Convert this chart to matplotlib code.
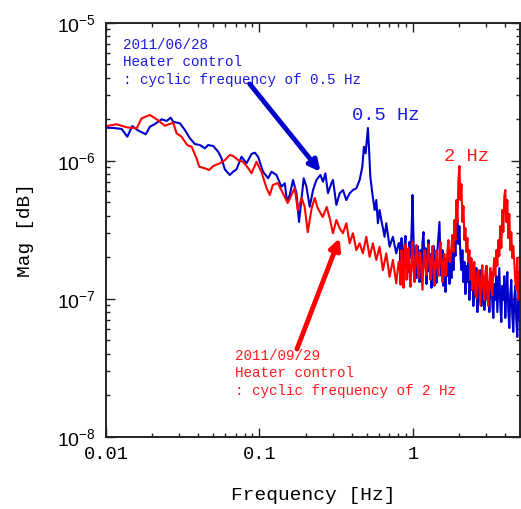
import numpy as np
import matplotlib
matplotlib.use("Agg")
import matplotlib.pyplot as plt
from matplotlib.ticker import FixedLocator, FuncFormatter, LogLocator

# Magnitudes are in units of 1e-7, frequencies in Hz.

# 2011/06/28 spectrum (heater cycling at 0.5 Hz), below 0.82 Hz
blue_freq_low = [
    0.01011, 0.01127, 0.01265, 0.01376, 0.01483, 0.01598, 0.01813, 0.01933, 0.02084, 0.02303,
    0.02483, 0.02636, 0.02741, 0.03030, 0.03266, 0.03520, 0.03794, 0.04089, 0.04407, 0.04631,
    0.04991, 0.05379, 0.05659, 0.05946, 0.06409, 0.06733, 0.07085, 0.07636, 0.08230, 0.08872,
    0.09320, 0.09793, 0.1055, 0.1138, 0.1197, 0.1290, 0.1390, 0.1461, 0.1512, 0.1574,
    0.1654, 0.1741, 0.1810, 0.1884, 0.1942, 0.2022, 0.2125, 0.2233, 0.2349, 0.2494,
    0.2593, 0.2688, 0.2795, 0.2941, 0.3012, 0.3170, 0.3331, 0.3499, 0.3681, 0.3868,
    0.4064, 0.4276, 0.4494, 0.4679, 0.4792, 0.4915, 0.5088, 0.5165, 0.5275, 0.5435,
    0.5626, 0.5770, 0.5910, 0.6063, 0.6219, 0.6535, 0.6704, 0.7044, 0.7401, 0.7786,
    0.8059,
]
blue_mag_low = [
    17.34, 17.26, 16.97, 14.92, 17.84, 16.69, 15.54, 17.64, 18.45, 19.95,
    19.40, 20.50, 19.17, 18.66, 16.69, 14.53, 13.21, 12.99, 12.30, 12.99,
    12.78, 11.62, 10.41, 8.66, 7.88, 8.32, 8.66, 10.69, 9.58, 11.19,
    11.43, 10.69, 8.32, 7.46, 8.32, 7.88, 6.48, 6.86, 5.05, 5.64,
    7.25, 5.81, 3.60, 5.48, 7.46, 6.48, 4.64, 6.13, 7.25, 7.88,
    7.04, 8.11, 5.81, 6.86, 7.25, 4.78, 5.81, 6.13, 5.19, 5.81,
    6.13, 6.31, 7.25, 9.05, 12.63, 11.31, 17.26, 12.63, 7.66, 5.81,
    4.39, 5.19, 3.52, 4.39, 3.72, 2.81, 3.52, 2.38, 2.81, 2.13,
    2.52,
]

# 2011/09/29 spectrum (heater cycling at 2 Hz), below 0.82 Hz
red_freq_low = [
    0.01011, 0.01174, 0.01364, 0.01584, 0.01707, 0.01933, 0.02138, 0.02420, 0.02741, 0.02884,
    0.03108, 0.03381, 0.03611, 0.03891, 0.04046, 0.04407, 0.04700, 0.04991, 0.05516, 0.05946,
    0.06409, 0.06733, 0.07256, 0.07821, 0.08432, 0.08872, 0.09561, 0.1030, 0.1111, 0.1167,
    0.1221, 0.1316, 0.1418, 0.1528, 0.1615, 0.1697, 0.1775, 0.1884, 0.1971, 0.2062,
    0.2189, 0.2290, 0.2395, 0.2582, 0.2741, 0.2867, 0.3012, 0.3170, 0.3331, 0.3499,
    0.3681, 0.3868, 0.4064, 0.4276, 0.4494, 0.4721, 0.4967, 0.5220, 0.5484, 0.5770,
    0.6063, 0.6373, 0.6704, 0.7044, 0.7401, 0.7786, 0.8059,
]
red_mag_low = [
    17.84, 18.36, 17.46, 17.17, 20.29, 21.44, 19.95, 17.93, 18.86, 15.79,
    14.92, 12.99, 12.63, 10.41, 9.05, 8.81, 8.56, 9.15, 9.58, 10.10,
    11.00, 10.82, 10.10, 9.83, 8.85, 8.11, 9.83, 8.28, 6.34, 5.64,
    6.67, 6.89, 5.83, 4.94, 5.64, 6.34, 4.39, 5.37, 4.62, 3.04,
    4.54, 5.37, 4.54, 3.91, 4.62, 3.84, 2.98, 3.72, 3.24, 2.98,
    3.52, 2.52, 2.98, 2.25, 2.52, 2.13, 2.81, 2.01, 2.52, 1.91,
    2.38, 1.61, 2.13, 1.44, 1.91, 1.29, 1.85,
]

# shared frequency bins above 0.8 Hz
dense_freq = [
    0.8180, 0.8303, 0.8429, 0.8556, 0.8685, 0.8816, 0.8949, 0.9084, 0.9221, 0.9360,
    0.9501, 0.9644, 0.9790, 0.9937, 1.0087, 1.0239, 1.0394, 1.0551, 1.0710, 1.0871,
    1.1035, 1.1202, 1.1371, 1.1542, 1.1716, 1.1893, 1.2072, 1.2254, 1.2439, 1.2627,
    1.2817, 1.3011, 1.3207, 1.3406, 1.3608, 1.3813, 1.4022, 1.4233, 1.4448, 1.4666,
    1.4887, 1.5112, 1.5340, 1.5571, 1.5806, 1.6044, 1.6286, 1.6532, 1.6781, 1.7034,
    1.7291, 1.7552, 1.7817, 1.8085, 1.8358, 1.8635, 1.8916, 1.9201, 1.9491, 1.9785,
    2.0083, 2.0386, 2.0693, 2.1005, 2.1322, 2.1644, 2.1970, 2.2301, 2.2638, 2.2979,
    2.3326, 2.3677, 2.4034, 2.4397, 2.4765, 2.5138, 2.5517, 2.5902, 2.6293, 2.6689,
    2.7092, 2.7500, 2.7915, 2.8336, 2.8763, 2.9197, 2.9637, 3.0084, 3.0538, 3.0998,
    3.1466, 3.1940, 3.2422, 3.2911, 3.3407, 3.3911, 3.4422, 3.4941, 3.5468, 3.6003,
    3.6546, 3.7097, 3.7656, 3.8224, 3.8800, 3.9385, 3.9979, 4.0582, 4.1194, 4.1815,
    4.2446, 4.3086, 4.3735, 4.4395, 4.5064, 4.5744, 4.6434, 4.7134, 4.7845, 4.8566,
    4.9298,
]
blue_mag_dense = [
    2.53, 1.85, 2.75, 2.07, 1.61, 2.49, 2.85, 1.73, 2.25, 1.56,
    2.58, 1.97, 3.04, 5.64, 2.66, 1.67, 2.18, 1.41, 2.41, 1.85,
    1.32, 2.25, 1.61, 2.58, 3.04, 1.73, 2.33, 1.28, 1.97, 2.66,
    1.56, 2.11, 1.20, 1.85, 2.41, 1.46, 1.97, 1.30, 2.25, 2.85,
    3.60, 1.85, 1.46, 2.25, 1.24, 1.85, 1.12, 1.97, 1.46, 2.25,
    1.28, 1.85, 1.41, 2.41, 1.61, 2.66, 2.04, 3.25, 3.72, 2.49,
    3.36, 2.04, 1.61, 2.25, 1.32, 1.85, 1.08, 1.73, 1.32, 1.97,
    0.98, 1.56, 1.16, 1.78, 0.885, 1.37, 1.05, 1.67, 0.80, 1.28,
    0.98, 1.61, 0.885, 1.20, 1.46, 0.828, 1.12, 1.73, 0.98, 1.32,
    0.80, 1.24, 1.56, 0.915, 0.725, 1.28, 0.98, 1.46, 0.80, 1.16,
    1.67, 0.885, 0.678, 1.24, 0.98, 1.46, 0.725, 1.12, 1.56, 0.828,
    0.613, 1.08, 1.37, 0.75, 0.574, 1.01, 1.24, 0.70, 0.528, 0.98,
    0.725,
]
red_mag_dense = [
    1.85, 1.26, 2.25, 1.61, 1.20, 2.07, 2.49, 1.37, 1.85, 2.33,
    1.46, 1.22, 1.97, 2.58, 1.61, 1.32, 2.04, 2.45, 1.73, 1.41,
    2.18, 2.04, 1.56, 1.16, 1.85, 2.25, 1.67, 1.48, 2.11, 2.49,
    1.78, 1.37, 1.97, 2.41, 1.56, 1.24, 1.85, 2.25, 1.67, 1.46,
    2.04, 2.58, 1.73, 1.32, 1.91, 2.11, 1.46, 1.61, 2.25, 2.66,
    1.85, 1.85, 2.41, 2.89, 2.18, 3.72, 2.66, 5.19, 3.60, 7.25,
    9.15, 5.19, 6.78, 3.60, 4.70, 2.66, 3.25, 2.18, 2.75, 1.85,
    2.25, 1.37, 1.97, 1.16, 1.67, 1.85, 1.08, 1.01, 1.56, 1.61,
    1.20, 0.90, 1.46, 1.75, 1.16, 0.98, 1.56, 1.73, 1.05, 0.885,
    1.37, 1.67, 1.16, 1.06, 1.61, 1.97, 1.46, 2.25, 1.73, 2.66,
    2.04, 3.36, 2.33, 4.39, 3.04, 5.55, 6.13, 3.60, 5.19, 2.75,
    4.11, 2.25, 3.04, 1.97, 2.41, 1.85, 1.32, 1.16, 1.97, 0.98,
    1.56,
]

x_ticks = [0.01, 0.1, 1]
x_tick_labels = ["0.01", "0.1", "1"]

mono = "Liberation Mono"
sans = "Liberation Sans"
line_blue = "#0000cc"
line_red = "#ff0000"
text_blue = "#1a1ae0"
text_red = "#ff1a1a"

blue_freq = blue_freq_low + dense_freq
blue_mag = np.array(blue_mag_low + blue_mag_dense) * 1e-7
red_freq = red_freq_low + dense_freq
red_mag = np.array(red_mag_low + red_mag_dense) * 1e-7

fig = plt.figure(figsize=(5.21, 5.09), dpi=100)
ax = fig.add_axes([0.2035, 0.142, 0.795, 0.8134])

ax.plot(blue_freq, blue_mag, color=line_blue, lw=1.5)
ax.plot(red_freq, red_mag, color=line_red, lw=1.5)

ax.set_xscale("log")
ax.set_yscale("log")
ax.set_xlim(0.01, 5)
ax.set_ylim(1e-8, 1e-5)

ax.xaxis.set_major_locator(FixedLocator(x_ticks))
ax.xaxis.set_major_formatter(FuncFormatter(lambda v, p: dict(zip(x_ticks, x_tick_labels)).get(v, "")))
ax.xaxis.set_minor_locator(LogLocator(base=10, subs=np.arange(2, 10)))
ax.yaxis.set_minor_locator(LogLocator(base=10, subs=np.arange(2, 10)))

ax.tick_params(which="both", direction="in", top=True, right=True, width=1.0, color="#222222")
ax.tick_params(which="major", length=6.5, pad=7)
ax.tick_params(which="minor", length=3.2)
for lab in ax.get_xticklabels():
    lab.set_fontfamily(mono)
    lab.set_fontsize(13.5)
for lab in ax.get_yticklabels():
    lab.set_fontfamily(sans)
    lab.set_fontsize(14)
for sp in ax.spines.values():
    sp.set_linewidth(1.4)
    sp.set_color("#222222")

ax.set_xlabel("Frequency [Hz]", fontfamily=mono, fontsize=14, labelpad=17)
ax.set_ylabel("Mag [dB]", fontfamily=mono, fontsize=14, labelpad=17)

# notes and arrows
ax.text(0.041, 0.963, "2011/06/28\nHeater control\n: cyclic frequency of 0.5 Hz",
        transform=ax.transAxes, ha="left", va="top", fontfamily=mono, fontsize=10.3,
        color=text_blue, linespacing=1.3)
ax.text(0.311, 0.212, "2011/09/29\nHeater control\n: cyclic frequency of 2 Hz",
        transform=ax.transAxes, ha="left", va="top", fontfamily=mono, fontsize=10.3,
        color=text_red, linespacing=1.3)
ax.text(0.675, 0.775, "0.5 Hz", transform=ax.transAxes, ha="center", va="center",
        fontfamily=mono, fontsize=13.5, color=text_blue)
ax.text(0.870, 0.678, "2 Hz", transform=ax.transAxes, ha="center", va="center",
        fontfamily=mono, fontsize=13.5, color=text_red)

ax.annotate("", xy=(0.25, 8.3e-7), xytext=(0.347, 0.852), textcoords="axes fraction",
            arrowprops=dict(arrowstyle="-|>", lw=3.5, color=line_blue, mutation_scale=16,
                            shrinkA=0, shrinkB=0))
ax.annotate("", xy=(0.333, 2.75e-7), xytext=(0.461, 0.212), textcoords="axes fraction",
            arrowprops=dict(arrowstyle="-|>", lw=3.5, color=line_red, mutation_scale=16,
                            shrinkA=0, shrinkB=0))

fig.savefig("out.png", dpi=100)
